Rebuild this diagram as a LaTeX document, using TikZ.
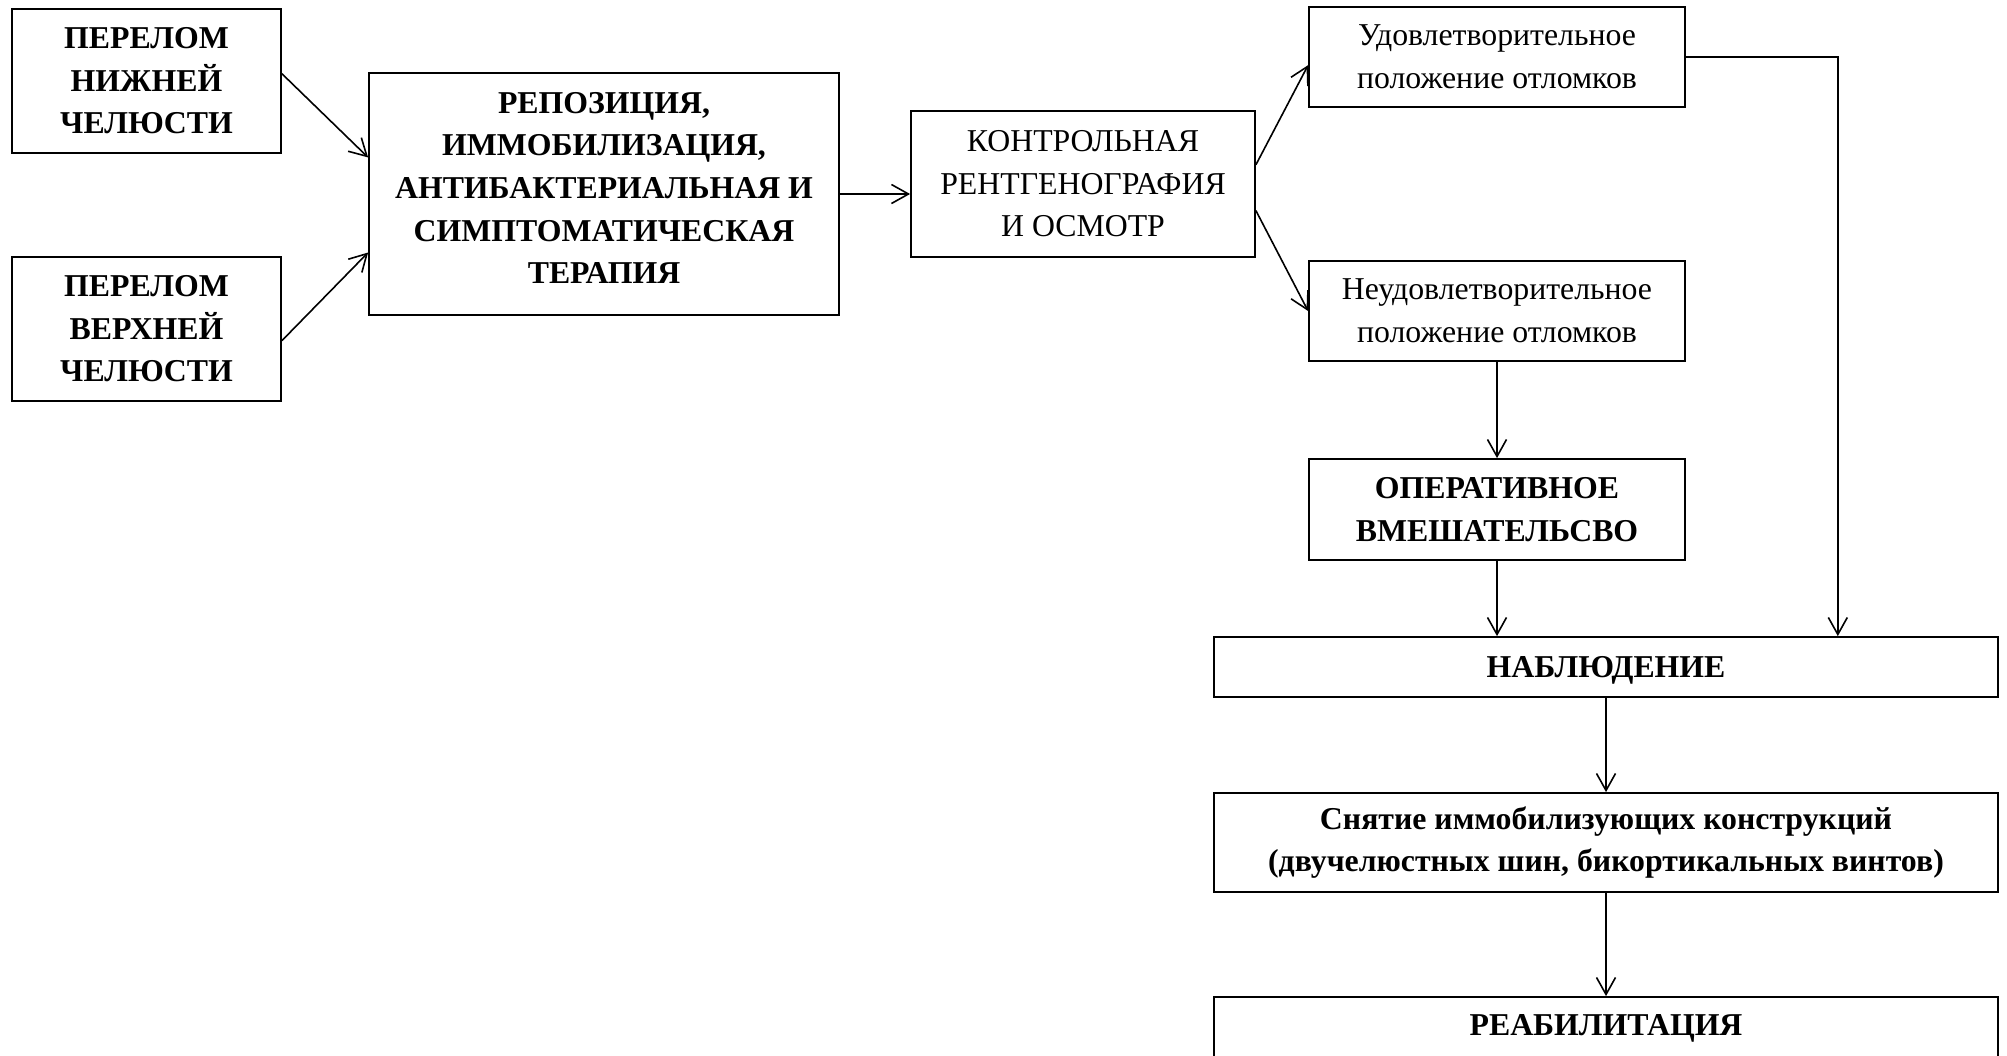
\documentclass[tikz,border=0pt]{standalone}
\usepackage{fontspec}
\setmainfont{Liberation Serif}
\usetikzlibrary{arrows.meta}
\usetikzlibrary{calc}

\tikzset{
	box/.style={draw, line width=0.9pt, inner sep=0pt, align=center,
		font=\fontsize{15.9}{21.3}\selectfont},
	bbox/.style={box, font=\fontsize{15.9}{21.3}\selectfont\bfseries},
	arr/.style={line width=0.8pt, -{Straight Barb[length=8.5pt,width=9.5pt]}},
}

\begin{document}
\begin{tikzpicture}[x=0.5pt, y=-0.5pt]
\clip (0,0) rectangle (2007,1055);
	% left column
\path
	(146.5,81) node[bbox, minimum width=134.5pt, minimum height=72pt] (nizh) {ПЕРЕЛОМ\\НИЖНЕЙ\\ЧЕЛЮСТИ}
	(146.5,329) node[bbox, minimum width=134.5pt, minimum height=72pt] (verh) {ПЕРЕЛОМ\\ВЕРХНЕЙ\\ЧЕЛЮСТИ}
	(604,194) node[bbox, minimum width=235pt, minimum height=121pt, text depth=6pt] (repoz) {РЕПОЗИЦИЯ,\\ИММОБИЛИЗАЦИЯ,\\АНТИБАКТЕРИАЛЬНАЯ И\\СИМПТОМАТИЧЕСКАЯ\\ТЕРАПИЯ}
	(1083,184) node[box, minimum width=172pt, minimum height=73pt] (kontrol) {КОНТРОЛЬНАЯ\\РЕНТГЕНОГРАФИЯ\\И ОСМОТР}
	;

	% right column
\path
	(1497,57) node[box, minimum width=188pt, minimum height=50pt] (udovl) {Удовлетворительное\\положение отломков}
	(1497,311) node[box, minimum width=188pt, minimum height=50pt] (neudovl) {Неудовлетворительное\\положение отломков}
	(1497,509.5) node[bbox, minimum width=188pt, minimum height=50.5pt] (oper) {ОПЕРАТИВНОЕ\\ВМЕШАТЕЛЬСВО}
	(1606,667) node[bbox, minimum width=392pt, minimum height=30pt, text height=14pt] (nabl) {НАБЛЮДЕНИЕ}
	(1606,842.5) node[bbox, minimum width=392pt, minimum height=49.5pt] (snyat) {Снятие иммобилизующих конструкций\\(двучелюстных шин, бикортикальных винтов)}
	(1606,1035) node[bbox, anchor=base, minimum width=392pt, text height=19pt, text depth=40pt] (reab) {РЕАБИЛИТАЦИЯ}
	;

\draw[arr] ($(nizh.north east)!0.45!(nizh.south east)$) -- ($(repoz.north west)!0.35!(repoz.south west)$);
\draw[arr] ($(verh.north east)!0.58!(verh.south east)$) -- ($(repoz.north west)!0.74!(repoz.south west)$);
\draw[arr] (repoz.east) -- (repoz.east -| kontrol.west);
\draw[arr] ($(kontrol.north east)!0.37!(kontrol.south east)$) -- ($(udovl.north west)!0.58!(udovl.south west)$);
\draw[arr] ($(kontrol.north east)!0.68!(kontrol.south east)$) -- (neudovl.west);
\draw[arr] (udovl.east) -| ($(nabl.north west)!0.795!(nabl.north east)$);
\draw[arr] (neudovl.south) -- (oper.north);
\draw[arr] (oper.south) -- (oper.south |- nabl.north);
\draw[arr] (nabl.south) -- (snyat.north);
\draw[arr] (snyat.south) -- (reab.north);
\end{tikzpicture}
\end{document}
